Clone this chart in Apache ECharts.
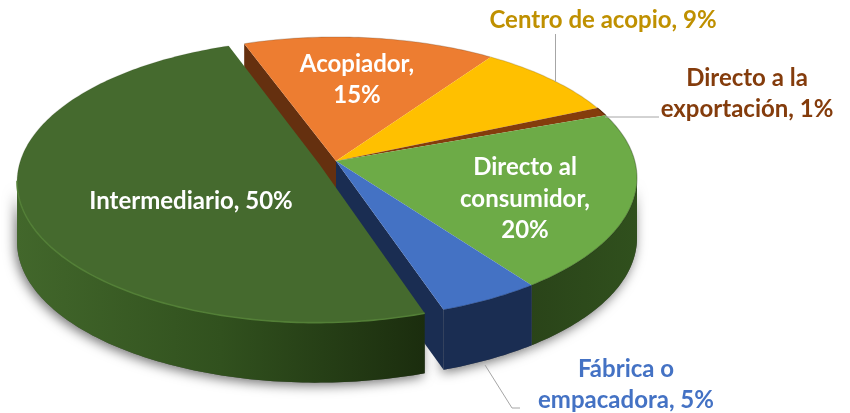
<!DOCTYPE html>
<html><head><meta charset="utf-8">
<style>html,body{margin:0;padding:0;background:#fff}#c{width:850px;height:413px}</style>
<script src="https://cdn.jsdelivr.net/npm/echarts@6/dist/echarts.min.js"></script>
</head><body><div id="c"></div>
<script>
// ---- data ----
const categories = ['Acopiador','Centro de acopio','Directo a la exportación','Directo al consumidor','Fábrica o empacadora','Intermediario'];
const shares = [15.2, 8.8, 1, 20.49, 4.9, 49.61];

// ---- styles ----
const topColors = ['#ed7d31','#ffc000','#843c0c','#6dab47','#4472c4','#456a2e'];
const sideColors = ['#65300f','#7f6000','#42200a',['#2a4419','#30501d'],'#1a2d52',['#42672b','#31511e','#1b2d0e']];
const rimColors = ['rgba(90,60,30,.25)','rgba(110,85,20,.25)','#5a2a08','rgba(30,50,15,.35)','rgba(20,40,80,.4)','rgba(40,60,25,.12)'];
const labelColors = ['#fff','#bf9000','#843c0c','#fff','#4472c4','#fff'];
// ---- layout ----
const FONT = 'bold 24px Lato, Carlito, sans-serif';
const labelLines = [['Acopiador,','15%'],['Centro de acopio, 9%'],['Directo a la','exportación, 1%'],['Directo al','consumidor,','20%'],['Fábrica o','empacadora, 5%'],['Intermediario, 50%']];
const labelAt = [[357,80],[603,20],[747,94],[525,199],[626,385],[191,201]];
const leaders = [[[555.5,34],[555.5,82]],[[605,117],[659,117]],[[485,365],[512,408],[520,408]]];
const CX=336, CY=161, A=298.8, B=139, K=0.1206, DEPTH=60, START=-20;
const EXPLODE=[0,0,0,0,0,0.06];
const FRONT_A=96.9, FRONT_B=263.1;

const total = shares.reduce((a,b)=>a+b,0);
const starts=[]; let acc=START;
shares.forEach(s=>{starts.push(acc); acc+=s/total*360;});

function proj(deg,r,ex,ey,drop){
  const t=deg*Math.PI/180, u=r*Math.sin(t)+ex, v=r*Math.cos(t)+ey, w=1+K*v;
  return [CX+A*u/w, CY-B*v/w+(drop||0)];
}
function offset(i){
  const mid=(starts[i]+shares[i]/total*180)*Math.PI/180;
  return [EXPLODE[i]*Math.sin(mid),EXPLODE[i]*Math.cos(mid)];
}
function arc(a,b,ex,ey,drop){
  const pts=[],n=Math.max(2,Math.ceil(Math.abs(b-a)));
  for(let j=0;j<=n;j++) pts.push(proj(a+(b-a)*j/n,1,ex,ey,drop));
  return pts;
}
function paint(c){
  if(Array.isArray(c)) return new echarts.graphic.LinearGradient(0,0,1,0,c.map((col,i)=>({offset:i/(c.length-1),color:col})));
  return c;
}
function frontRange(a,b){
  const lo=Math.max(a,FRONT_A), hi=Math.min(b,FRONT_B);
  return hi>lo?[lo,hi]:null;
}
function wallPts(i,lo,hi){
  const [ex,ey]=offset(i);
  return arc(lo,hi,ex,ey,0).concat(arc(lo,hi,ex,ey,DEPTH).reverse());
}
function shadowItem(params,api){
  const i=params.dataIndex, a=starts[i], b=a+api.value(0)/total*360, fr=frontRange(a,b);
  if(!fr) return {type:'group',children:[]};
  return {type:'polygon',shape:{points:wallPts(i,fr[0],fr[1])},
    style:{fill:'#555',shadowBlur:12,shadowColor:'rgba(0,0,0,.55)',shadowOffsetX:-2,shadowOffsetY:3}};
}
function sliceItem(params,api){
  const i=params.dataIndex, a=starts[i], b=a+api.value(0)/total*360, [ex,ey]=offset(i);
  const ch=[], fr=frontRange(a,b), side=paint(sideColors[i]);
  const apex=proj(0,0,ex,ey,0), apexD=proj(0,0,ex,ey,DEPTH);
  if(i===0 || i===4){
    const ang=i===0?a:b;
    ch.push({type:'polygon',shape:{points:[apex,proj(ang,1,ex,ey,0),proj(ang,1,ex,ey,DEPTH),apexD]},style:{fill:side}});
  }
  if(fr) ch.push({type:'polygon',shape:{points:wallPts(i,fr[0],fr[1])},style:{fill:side}});
  ch.push({type:'polygon',shape:{points:[apex].concat(arc(a,b,ex,ey,0))},style:{fill:topColors[i]}});
  ch.push({type:'polyline',shape:{points:arc(a,b,ex,ey,0)},style:{fill:null,stroke:rimColors[i],lineWidth:1.1}});
  if(i===5 && fr) ch.push({type:'polyline',shape:{points:arc(fr[0],fr[1],ex,ey,0)},style:{fill:null,stroke:'#537f37',lineWidth:1.6}});
  return {type:'group',children:ch};
}
function labelItem(params){
  const i=params.dataIndex;
  return {type:'text',style:{text:labelLines[i].join('\n'),x:labelAt[i][0],y:labelAt[i][1],
    fill:labelColors[i],font:FONT,align:'center',verticalAlign:'middle',lineHeight:31.5}};
}
const vals=shares.map((v,i)=>({name:categories[i],value:[v]}));
const chart=echarts.init(document.getElementById('c'),null,{renderer:'canvas'});
chart.setOption({
  animation:false,backgroundColor:'#fff',
  series:[
    {type:'custom',coordinateSystem:'none',data:vals,renderItem:shadowItem,silent:true,z:1},
    {type:'custom',coordinateSystem:'none',data:vals,renderItem:sliceItem,silent:true,z:2},
    {type:'custom',coordinateSystem:'none',data:vals,renderItem:labelItem,silent:true,z:3}
  ],
  graphic:leaders.map(p=>({type:'polyline',z:4,silent:true,shape:{points:p},style:{fill:null,stroke:'#a6a6a6',lineWidth:1}}))
});
</script></body></html>
